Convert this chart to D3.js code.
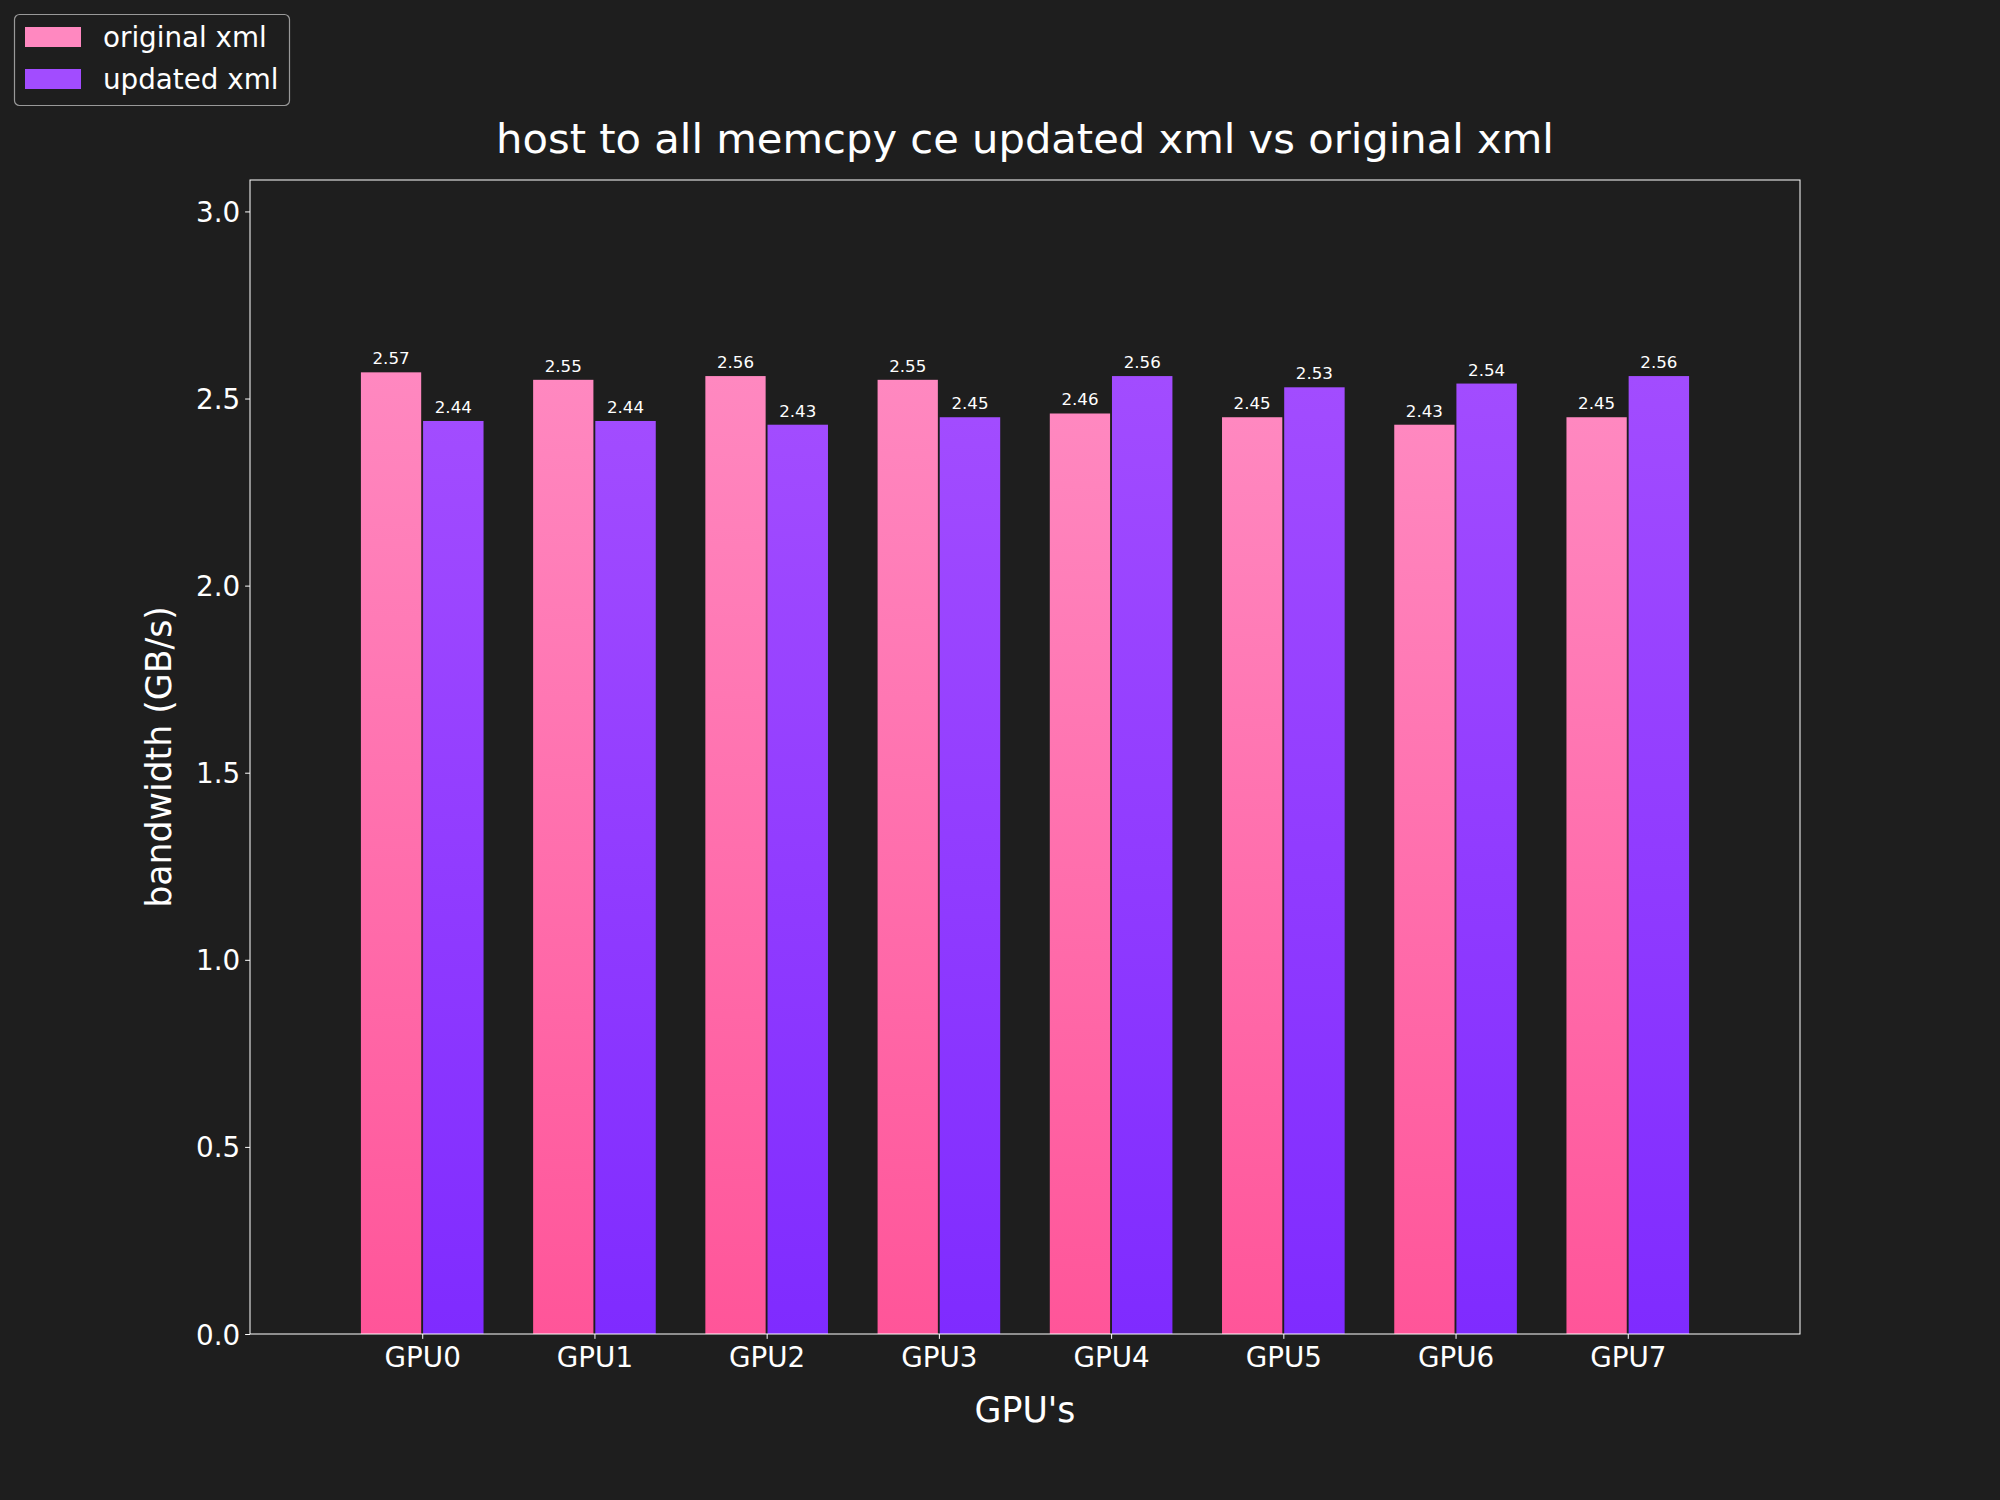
<!DOCTYPE html>
<html>
<head>
<meta charset="utf-8">
<script src="https://cdn.jsdelivr.net/npm/d3@7"></script>
<style>
  html, body { margin: 0; padding: 0; background: #1e1e1e; }
  svg { display: block; }
  text { font-family: "DejaVu Sans", sans-serif; fill: #ffffff; }
</style>
</head>
<body>
<script>
const categories = ["GPU0", "GPU1", "GPU2", "GPU3", "GPU4", "GPU5", "GPU6", "GPU7"];
const originalXml = [2.57, 2.55, 2.56, 2.55, 2.46, 2.45, 2.43, 2.45];
const updatedXml  = [2.44, 2.44, 2.43, 2.45, 2.56, 2.53, 2.54, 2.56];
const seriesNames = ["original xml", "updated xml"];
const yTicks = [0.0, 0.5, 1.0, 1.5, 2.0, 2.5, 3.0];
const yMax = 3.084;

const W = 2000, H = 1500;
const m = { left: 250, right: 1800, top: 180, bottom: 1334 };
const bg = "#1e1e1e";

const svg = d3.select("body").append("svg").attr("width", W).attr("height", H);
svg.append("rect").attr("width", W).attr("height", H).attr("fill", bg);

const defs = svg.append("defs");
function grad(id, top, bottom) {
  const g = defs.append("linearGradient").attr("id", id)
    .attr("x1", 0).attr("y1", 0).attr("x2", 0).attr("y2", 1);
  g.append("stop").attr("offset", "0%").attr("stop-color", top);
  g.append("stop").attr("offset", "100%").attr("stop-color", bottom);
}
const colors = [
  { top: "#ff88c0", bottom: "#ff5599", id: "gPink" },
  { top: "#a24cff", bottom: "#7f2bff", id: "gPurple" }
];
colors.forEach(c => grad(c.id, c.top, c.bottom));

const x = d3.scaleLinear().domain([-1, 8]).range([m.left, m.right]);
const y = d3.scaleLinear().domain([0, yMax]).range([m.bottom, m.top]);

const series = [originalXml, updatedXml];
const offsets = [[-0.356, -0.006], [0.005, 0.356]];

series.forEach((vals, s) => {
  const g = svg.append("g");
  g.selectAll("rect").data(vals).enter().append("rect")
    .attr("x", (d, i) => x(i + offsets[s][0]))
    .attr("width", (d, i) => x(i + offsets[s][1]) - x(i + offsets[s][0]))
    .attr("y", d => y(d))
    .attr("height", d => y(0) - y(d))
    .attr("fill", `url(#${colors[s].id})`);
  g.selectAll("text").data(vals).enter().append("text")
    .attr("x", (d, i) => (x(i + offsets[s][0]) + x(i + offsets[s][1])) / 2)
    .attr("y", d => y(d) - 8)
    .attr("text-anchor", "middle")
    .attr("font-size", "16.67px")
    .text(d => d.toFixed(2));
});

// frame
svg.append("rect")
  .attr("x", m.left).attr("y", m.top)
  .attr("width", m.right - m.left).attr("height", m.bottom - m.top)
  .attr("fill", "none").attr("stroke", "#ffffff").attr("stroke-width", 1);

// y axis
const yAxis = d3.axisLeft(y).tickValues(yTicks).tickFormat(d3.format(".1f"))
  .tickSize(4.86).tickPadding(4.86);
const yg = svg.append("g").attr("transform", `translate(${m.left},0)`).call(yAxis);
yg.select(".domain").remove();
yg.selectAll("line").attr("stroke", "#ffffff");
yg.selectAll("text").attr("font-size", "27.78px").attr("fill", "#ffffff")
  .attr("font-family", "DejaVu Sans").attr("dy", "0.36em");

// x axis
const xAxis = d3.axisBottom(x).tickValues(d3.range(categories.length))
  .tickFormat(i => categories[i]).tickSize(4.86).tickPadding(4.86);
const xg = svg.append("g").attr("transform", `translate(0,${m.bottom})`).call(xAxis);
xg.select(".domain").remove();
xg.selectAll("line").attr("stroke", "#ffffff");
xg.selectAll("text").attr("font-size", "27.78px").attr("fill", "#ffffff")
  .attr("font-family", "DejaVu Sans").attr("dy", "0.84em");

// title
svg.append("text").attr("x", (m.left + m.right) / 2).attr("y", 153)
  .attr("text-anchor", "middle").attr("font-size", "41.67px")
  .text("host to all memcpy ce updated xml vs original xml");

// axis labels
svg.append("text").attr("x", (m.left + m.right) / 2).attr("y", 1422)
  .attr("text-anchor", "middle").attr("font-size", "34.72px").text("GPU's");
svg.append("text")
  .attr("transform", `translate(171,${(m.top + m.bottom) / 2}) rotate(-90)`)
  .attr("text-anchor", "middle").attr("font-size", "34.72px").text("bandwidth (GB/s)");

// legend
const lg = svg.append("g");
lg.append("rect").attr("x", 14.5).attr("y", 14.5).attr("width", 275).attr("height", 91)
  .attr("rx", 5).attr("ry", 5)
  .attr("fill", bg).attr("stroke", "#999999").attr("stroke-width", 1.2);
seriesNames.forEach((name, i) => {
  const cy = 37 + i * 42;
  lg.append("rect").attr("x", 25).attr("y", cy - 10).attr("width", 56).attr("height", 20)
    .attr("fill", colors[i].top);
  lg.append("text").attr("x", 103).attr("y", cy + 10).attr("font-size", "27.78px").text(name);
});
</script>
</body>
</html>
